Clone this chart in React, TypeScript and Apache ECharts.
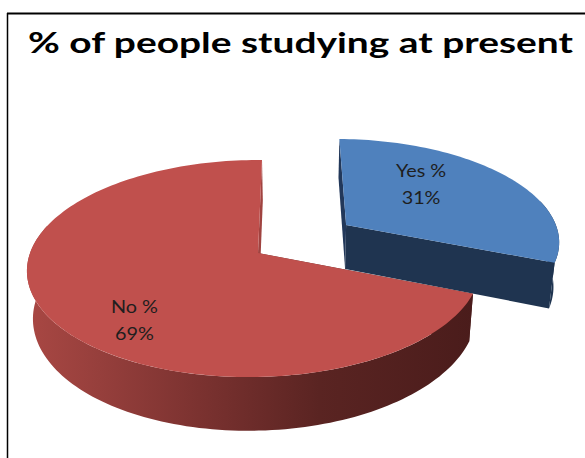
import React, { useEffect, useRef } from "react";
import * as echarts from "echarts";

// ---- data ----
const titleText = "% of people studying at present";
const sliceNames = ["Yes %", "No %"];
const sliceValues = [31, 69];
const explodedSlices = [true, false];

// ---- style ----
const topColors = ["#4F81BD", "#C0504D"];
const redSide = new echarts.graphic.LinearGradient(30, 0, 475, 0, [
  { offset: 0, color: "#A84743" },
  { offset: 0.157, color: "#963F3C" },
  { offset: 0.38, color: "#7B3230" },
  { offset: 0.65, color: "#5A2422" },
  { offset: 1, color: "#4A1C1B" },
], true);
const sideColors: any[] = ["#1F3450", redSide];
// colour of the radial face at the slice's start angle / end angle
const startFaceColors: any[] = ["#22385A", redSide];
const endFaceColors: any[] = ["#1F3450", "#A04340"];

// ---- 3D layout (pseudo-perspective projection) ----
const CX = 258;
const CY = 253;
const RX = 224.3;
const RY = 106.3;
const SKEW = 4.57;
const PERSP = 0.143;
const PERSP_X = 0.016;
const DEPTH = 46;
const VX = 300;
const CONV = 0.022;
const EXPLODE = 0.49;
const LABEL_R = [0.6, 0.75];
const LABEL_ROT = 15;
const RAD = Math.PI / 180;

function proj(u: number, w: number, z: number): number[] {
  const s = 1 / (1 + PERSP * w + PERSP_X * u);
  let x = CX + (RX * u + SKEW * w) * s;
  const y = CY + (-RY * w + DEPTH * z) * s;
  x += (VX - x) * CONV * z;
  return [x, y];
}

function rim(cu: number, cw: number, from: number, to: number, z: number) {
  const pts: number[][] = [];
  const n = Math.max(1, Math.ceil(Math.abs(to - from) / 1.5));
  for (let k = 0; k <= n; k++) {
    const a = (from + ((to - from) * k) / n) * RAD;
    pts.push(proj(cu + Math.cos(a), cw + Math.sin(a), z));
  }
  return pts;
}

const total = sliceValues.reduce((a, b) => a + b, 0);
const sliceAngles: number[][] = [];
{
  let acc = 90;
  for (const v of sliceValues) {
    const a0 = acc;
    const a1 = acc - (v / total) * 360;
    sliceAngles.push([a0, a1]);
    acc = a1;
  }
}

function renderSlice(params: any, api: any) {
  const i = params.dataIndex;
  const [a0, a1] = sliceAngles[i];
  const mid = ((a0 + a1) / 2) * RAD;
  const ex = explodedSlices[i] ? EXPLODE : 0;
  const cu = ex * Math.cos(mid);
  const cw = ex * Math.sin(mid);
  const children: any[] = [];

  // outer side: only the front-facing part
  const windows = [[-195, 15], [165, 375], [-555, -345]];
  for (const [lo, hi] of windows) {
    const from = Math.min(a0, hi);
    const to = Math.max(a1, lo);
    if (from > to) {
      const pts = [...rim(cu, cw, from, to, 0), ...rim(cu, cw, to, from, 1)];
      children.push({ type: "polygon", shape: { points: pts }, style: { fill: sideColors[i] } });
    }
  }

  // radial faces
  const face = (a: number) => {
    const r = a * RAD;
    return [
      proj(cu, cw, 0),
      proj(cu + Math.cos(r), cw + Math.sin(r), 0),
      proj(cu + Math.cos(r), cw + Math.sin(r), 1),
      proj(cu, cw, 1),
    ];
  };
  children.push({ type: "polygon", shape: { points: face(a0) }, style: { fill: startFaceColors[i] } });
  children.push({ type: "polygon", shape: { points: face(a1) }, style: { fill: endFaceColors[i] } });

  // top face
  const topPts = [proj(cu, cw, 0), ...rim(cu, cw, a0, a1, 0)];
  children.push({ type: "polygon", shape: { points: topPts }, style: { fill: topColors[i] } });

  // label
  const la = mid + LABEL_ROT * RAD;
  const lr = LABEL_R[i];
  const [lx, ly] = proj(cu + lr * Math.cos(la), cw + lr * Math.sin(la), 0);
  const value = api.value(0);
  children.push({
    type: "text",
    x: lx,
    y: ly,
    scaleX: 1.1,
    style: {
      text: sliceNames[i] + "\n" + value + "%",
      fontFamily: "Lato",
      fontSize: 18,
      lineHeight: 27,
      fill: "#1E1E1E",
      align: "center",
      verticalAlign: "middle",
    },
  });

  return { type: "group", children };
}

export default function App() {
  const ref = useRef<HTMLDivElement>(null);
  useEffect(() => {
    document.body.style.margin = "0";
    const chart = echarts.init(ref.current!, null, { renderer: "svg" });

    let titleScale = 1;
    const ctx = document.createElement("canvas").getContext("2d");
    if (ctx) {
      ctx.font = "bold 28px Lato";
      const w = ctx.measureText(titleText).width;
      if (w > 0) titleScale = 546 / w;
    }

    chart.setOption({
      animation: false,
      backgroundColor: "#FFFFFF",
      graphic: [
        { type: "line", shape: { x1: 7, y1: 13.5, x2: 600, y2: 13.5 }, style: { stroke: "#000", lineWidth: 2 } },
        { type: "line", shape: { x1: 7.5, y1: 13, x2: 7.5, y2: 470 }, style: { stroke: "#000", lineWidth: 1.5 } },
        {
          type: "text",
          x: 28,
          y: 42,
          scaleX: titleScale,
          style: {
            text: titleText,
            fontFamily: "Lato",
            fontWeight: "bold",
            fontSize: 28,
            fill: "#000",
            align: "left",
            verticalAlign: "middle",
          },
        },
      ],
      series: [
        {
          type: "custom",
          coordinateSystem: "none",
          silent: true,
          data: sliceValues.map((v, i) => ({ name: sliceNames[i], value: v })),
          renderItem: renderSlice,
        },
      ],
    });
    return () => chart.dispose();
  }, []);
  return <div ref={ref} style={{ width: 585, height: 458 }} />;
}
